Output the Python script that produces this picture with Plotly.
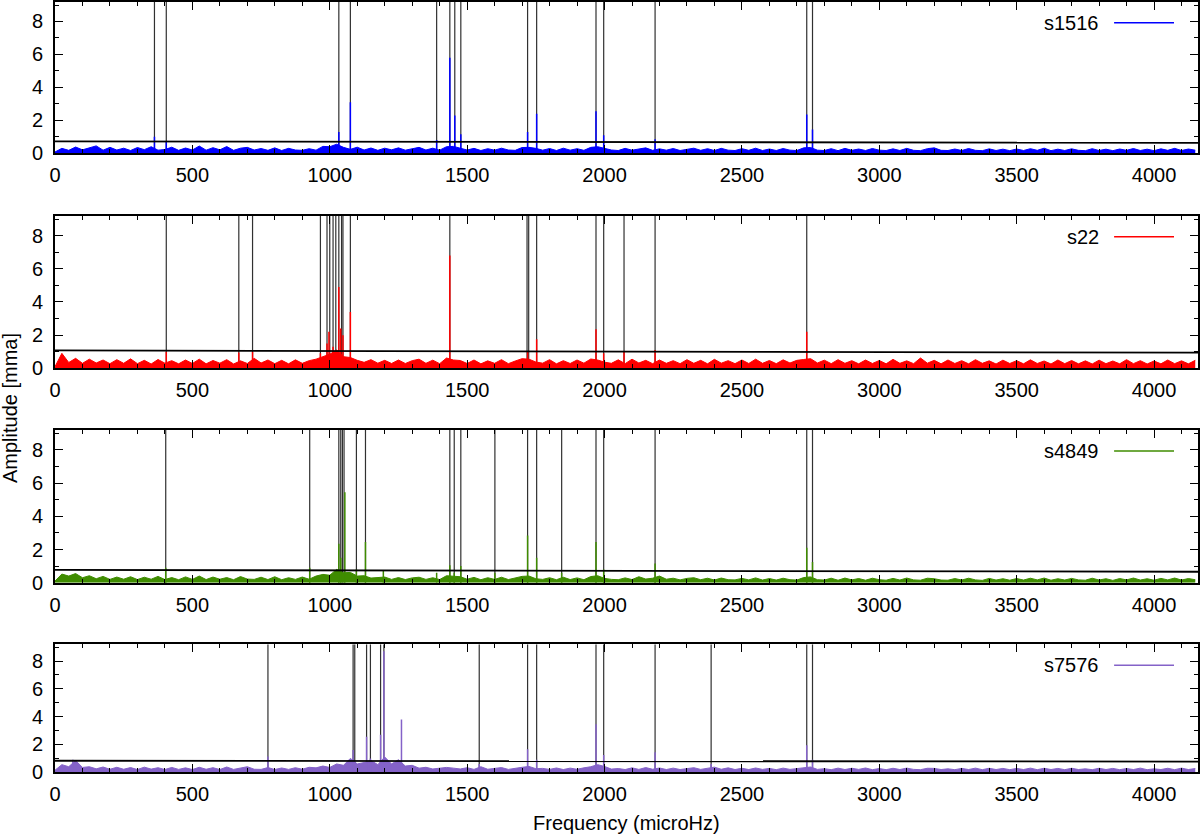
import plotly.graph_objects as go
from plotly.subplots import make_subplots

# --- data (frequency in microHz, amplitude in mma) ---
stars = ["s1516", "s22", "s4849", "s7576"]
colors = ["#0000ff", "#ff0000", "#3f8c00", "#8462c8"]

# noise floor, read every 25 microHz
noise_freq = list(range(0, 4175, 25))

noise_s1516 = [
    0.08, 0.30, 0.18, 0.38, 0.21, 0.33, 0.45, 0.19, 0.36, 0.20,
    0.31, 0.17, 0.35, 0.22, 0.40, 0.19, 0.23, 0.37, 0.18, 0.32,
    0.20, 0.44, 0.19, 0.34, 0.21, 0.41, 0.18, 0.31, 0.36, 0.20,
    0.29, 0.18, 0.33, 0.17, 0.30, 0.20, 0.18, 0.28, 0.19, 0.42,
    0.40, 0.55, 0.36, 0.24, 0.37, 0.20, 0.32, 0.18, 0.31, 0.21,
    0.33, 0.19, 0.29, 0.36, 0.20, 0.31, 0.19, 0.40, 0.42, 0.30,
    0.20, 0.30, 0.17, 0.28, 0.19, 0.31, 0.20, 0.18, 0.35, 0.36,
    0.30, 0.19, 0.29, 0.17, 0.31, 0.19, 0.28, 0.18, 0.36, 0.40,
    0.32, 0.20, 0.17, 0.30, 0.19, 0.28, 0.33, 0.18, 0.27, 0.19,
    0.29, 0.17, 0.26, 0.31, 0.18, 0.28, 0.17, 0.30, 0.19, 0.17,
    0.28, 0.18, 0.31, 0.17, 0.26, 0.17, 0.29, 0.19, 0.17, 0.33,
    0.35, 0.19, 0.17, 0.28, 0.16, 0.30, 0.18, 0.26, 0.17, 0.29,
    0.19, 0.17, 0.27, 0.17, 0.30, 0.18, 0.16, 0.28, 0.33, 0.18,
    0.17, 0.26, 0.17, 0.29, 0.18, 0.16, 0.27, 0.17, 0.25, 0.16,
    0.26, 0.17, 0.28, 0.18, 0.31, 0.16, 0.25, 0.17, 0.27, 0.18,
    0.16, 0.28, 0.17, 0.25, 0.16, 0.26, 0.18, 0.29, 0.17, 0.25,
    0.16, 0.27, 0.18, 0.30, 0.17, 0.26, 0.19,
]
noise_s22 = [
    0.10, 0.90, 0.35, 0.60, 0.30, 0.55, 0.32, 0.50, 0.28, 0.52,
    0.30, 0.57, 0.28, 0.48, 0.26, 0.53, 0.31, 0.46, 0.27, 0.50,
    0.29, 0.55, 0.27, 0.47, 0.31, 0.52, 0.26, 0.45, 0.29, 0.60,
    0.32, 0.50, 0.28, 0.48, 0.27, 0.51, 0.30, 0.46, 0.55, 0.70,
    0.85, 1.10, 0.70, 0.65, 0.48, 0.36, 0.52, 0.31, 0.48, 0.29,
    0.50, 0.29, 0.46, 0.55, 0.30, 0.49, 0.28, 0.62, 0.50, 0.47,
    0.29, 0.50, 0.27, 0.45, 0.30, 0.52, 0.28, 0.44, 0.58, 0.55,
    0.38, 0.31, 0.52, 0.27, 0.46, 0.29, 0.50, 0.31, 0.56, 0.50,
    0.37, 0.30, 0.51, 0.28, 0.55, 0.32, 0.48, 0.28, 0.50, 0.30,
    0.46, 0.28, 0.52, 0.30, 0.48, 0.27, 0.54, 0.31, 0.46, 0.28,
    0.50, 0.29, 0.55, 0.30, 0.47, 0.28, 0.51, 0.32, 0.48, 0.53,
    0.58, 0.32, 0.49, 0.28, 0.52, 0.30, 0.46, 0.27, 0.50, 0.29,
    0.47, 0.27, 0.54, 0.30, 0.45, 0.28, 0.62, 0.31, 0.48, 0.27,
    0.50, 0.29, 0.46, 0.27, 0.52, 0.30, 0.45, 0.26, 0.49, 0.29,
    0.46, 0.27, 0.51, 0.29, 0.44, 0.26, 0.50, 0.28, 0.47, 0.27,
    0.45, 0.26, 0.49, 0.28, 0.44, 0.27, 0.52, 0.28, 0.46, 0.26,
    0.44, 0.27, 0.50, 0.28, 0.45, 0.27, 0.48,
]
noise_s4849 = [
    0.10, 0.52, 0.40, 0.55, 0.30, 0.42, 0.24, 0.38, 0.20, 0.34,
    0.21, 0.36, 0.19, 0.33, 0.21, 0.38, 0.19, 0.31, 0.18, 0.35,
    0.20, 0.40, 0.19, 0.34, 0.21, 0.31, 0.18, 0.37, 0.22, 0.20,
    0.33, 0.19, 0.36, 0.18, 0.30, 0.20, 0.34, 0.21, 0.40, 0.50,
    0.45, 0.80, 0.60, 0.62, 0.40, 0.42, 0.28, 0.30, 0.34, 0.20,
    0.31, 0.19, 0.29, 0.33, 0.20, 0.30, 0.19, 0.42, 0.40, 0.36,
    0.21, 0.32, 0.18, 0.30, 0.20, 0.33, 0.19, 0.29, 0.38, 0.40,
    0.24, 0.20, 0.30, 0.18, 0.33, 0.19, 0.29, 0.18, 0.37, 0.42,
    0.26, 0.20, 0.18, 0.29, 0.19, 0.36, 0.22, 0.27, 0.40, 0.21,
    0.27, 0.17, 0.26, 0.30, 0.18, 0.27, 0.16, 0.28, 0.18, 0.17,
    0.26, 0.17, 0.29, 0.16, 0.25, 0.16, 0.27, 0.18, 0.16, 0.31,
    0.35, 0.18, 0.16, 0.27, 0.15, 0.28, 0.17, 0.25, 0.15, 0.27,
    0.18, 0.15, 0.26, 0.16, 0.28, 0.17, 0.15, 0.27, 0.24, 0.16,
    0.15, 0.25, 0.16, 0.27, 0.17, 0.14, 0.26, 0.16, 0.24, 0.15,
    0.25, 0.16, 0.27, 0.17, 0.28, 0.15, 0.24, 0.16, 0.26, 0.17,
    0.15, 0.27, 0.16, 0.24, 0.14, 0.25, 0.17, 0.28, 0.16, 0.24,
    0.15, 0.26, 0.17, 0.28, 0.16, 0.25, 0.18,
]
noise_s7576 = [
    0.15, 0.55, 0.40, 0.85, 0.35, 0.40, 0.25, 0.38, 0.22, 0.36,
    0.22, 0.34, 0.20, 0.37, 0.23, 0.33, 0.20, 0.35, 0.21, 0.32,
    0.20, 0.36, 0.22, 0.33, 0.20, 0.38, 0.21, 0.31, 0.40, 0.22,
    0.21, 0.34, 0.20, 0.31, 0.21, 0.33, 0.22, 0.36, 0.32, 0.45,
    0.35, 0.60, 0.50, 1.00, 0.60, 0.70, 0.85, 0.55, 1.10, 0.60,
    0.90, 0.45, 0.50, 0.30, 0.36, 0.24, 0.28, 0.35, 0.30, 0.24,
    0.33, 0.21, 0.40, 0.22, 0.28, 0.34, 0.21, 0.31, 0.36, 0.42,
    0.26, 0.28, 0.21, 0.31, 0.20, 0.30, 0.22, 0.32, 0.40, 0.55,
    0.42, 0.23, 0.27, 0.20, 0.32, 0.21, 0.34, 0.22, 0.31, 0.20,
    0.30, 0.20, 0.29, 0.33, 0.21, 0.30, 0.37, 0.22, 0.32, 0.20,
    0.29, 0.20, 0.31, 0.21, 0.28, 0.19, 0.30, 0.21, 0.26, 0.34,
    0.38, 0.21, 0.26, 0.19, 0.30, 0.20, 0.29, 0.21, 0.31, 0.19,
    0.27, 0.19, 0.29, 0.20, 0.30, 0.21, 0.19, 0.29, 0.28, 0.20,
    0.25, 0.19, 0.28, 0.20, 0.30, 0.19, 0.29, 0.20, 0.28, 0.19,
    0.28, 0.20, 0.30, 0.19, 0.29, 0.20, 0.28, 0.19, 0.29, 0.20,
    0.25, 0.19, 0.29, 0.20, 0.28, 0.19, 0.27, 0.20, 0.30, 0.19,
    0.25, 0.20, 0.29, 0.19, 0.30, 0.20, 0.27,
]

# narrow peaks above the noise
peak_freq_s1516 = [362, 405, 1033, 1075, 1389, 1437, 1455, 1477, 1720, 1753, 1969, 1997, 2184, 2736, 2757]
peak_amp_s1516 = [1.0, 0.7, 1.3, 3.1, 0.8, 5.8, 2.3, 1.15, 1.3, 2.4, 2.55, 1.1, 0.85, 2.35, 1.45]

peak_freq_s22 = [405, 669, 719, 966, 990, 997, 1012, 1033, 1040, 1048, 1075, 1437, 1720, 1753, 1969, 1997, 2071, 2184, 2736]
peak_amp_s22 = [1.0, 0.95, 1.0, 0.9, 1.5, 2.2, 1.3, 4.9, 2.4, 2.0, 3.4, 6.8, 1.0, 1.75, 2.35, 0.9, 1.0, 1.1, 2.2]

peak_freq_s4849 = [403, 927, 1033, 1040, 1055, 1097, 1130, 1195, 1389, 1437, 1453, 1477, 1601, 1720, 1753, 1844, 1969, 1997, 2184, 2736, 2757]
peak_amp_s4849 = [0.9, 0.9, 2.35, 1.5, 5.45, 0.8, 2.45, 0.7, 0.6, 1.05, 0.6, 1.0, 0.6, 2.85, 1.5, 0.6, 2.45, 0.8, 1.15, 2.1, 1.25]

peak_freq_s7576 = [65, 775, 1085, 1134, 1148, 1185, 1197, 1261, 1544, 1720, 1753, 1969, 1997, 2184, 2388, 2736, 2757]
peak_amp_s7576 = [0.9, 1.13, 1.6, 2.55, 1.0, 2.7, 8.7, 3.8, 0.6, 1.65, 0.9, 3.45, 1.25, 1.45, 0.6, 1.95, 0.9]

# frequencies marked with vertical lines
marks_s1516 = [362, 405, 1033, 1075, 1389, 1437, 1455, 1477, 1720, 1753, 1969, 1997, 2184, 2736, 2757]
marks_s22 = [405, 669, 719, 966, 990, 1000, 1012, 1022, 1033, 1043, 1048, 1075, 1437, 1718, 1724, 1753,
             1969, 1997, 2071, 2184, 2736]
marks_s4849 = [403, 927, 1033, 1040, 1046, 1052, 1097, 1130, 1437, 1453, 1477, 1601, 1720, 1753, 1844,
               1969, 1997, 2184, 2736, 2757]
marks_s7576 = [775, 1085, 1091, 1134, 1148, 1185, 1197, 1544, 1720, 1753, 1969, 1997, 2184, 2388, 2736, 2757]

# significance threshold
thr_freq = [0, 1000, 2000, 3000, 4160]
thr_s1516 = [0.72, 0.70, 0.68, 0.66, 0.64]
thr_s22 = [1.08, 1.05, 1.01, 0.97, 0.94]
thr_s4849 = [0.77, 0.74, 0.71, 0.68, 0.66]
thr_s7576 = [0.83, 0.81, 0.80, 0.78, 0.77]

noise = [noise_s1516, noise_s22, noise_s4849, noise_s7576]
peak_freq = [peak_freq_s1516, peak_freq_s22, peak_freq_s4849, peak_freq_s7576]
peak_amp = [peak_amp_s1516, peak_amp_s22, peak_amp_s4849, peak_amp_s7576]
marks = [marks_s1516, marks_s22, marks_s4849, marks_s7576]
thr = [thr_s1516, thr_s22, thr_s4849, thr_s7576]

x_max = 4160
y_max = 9.2
font = "Liberation Sans, Arial, sans-serif"

W, H = 1200, 835
ML, MR = 55, 2
# panel edges in pixels (top, bottom)
panels_px = [(1.7, 153.3), (215.7, 368.3), (430, 582.7), (644.3, 772.3)]

fig = make_subplots(rows=4, cols=1)

for i in range(4):
    row = i + 1
    # vertical marker lines
    vx, vy = [], []
    for f in marks[i]:
        vx += [f, f, None]
        vy += [0, y_max, None]
    fig.add_trace(go.Scatter(x=vx, y=vy, mode="lines", line=dict(color="#303030", width=1.2),
                             hoverinfo="skip", showlegend=False), row=row, col=1)
    # noise floor
    fig.add_trace(go.Scatter(x=noise_freq, y=noise[i], mode="lines", fill="tozeroy",
                             fillcolor=colors[i], line=dict(color=colors[i], width=1),
                             name=stars[i], showlegend=False), row=row, col=1)
    # peaks as impulses
    px, py = [], []
    for f, a in zip(peak_freq[i], peak_amp[i]):
        px += [f, f, None]
        py += [0, a, None]
    fig.add_trace(go.Scatter(x=px, y=py, mode="lines", line=dict(color=colors[i], width=1.5),
                             hoverinfo="skip", showlegend=False), row=row, col=1)
    # threshold
    fig.add_trace(go.Scatter(x=thr_freq, y=thr[i], mode="lines", line=dict(color="black", width=1.8),
                             hoverinfo="skip", showlegend=False), row=row, col=1)

    top, bot = panels_px[i]
    sfx = "" if i == 0 else str(row)
    fig.layout["yaxis" + sfx].domain = [1 - bot / H, 1 - top / H]

    # legend entry: text then a short line sample
    ly = 1 - 21 / (bot - top)
    fig.add_annotation(x=0.915, y=ly, xref="x%s domain" % sfx, yref="y%s domain" % sfx,
                       text=stars[i], showarrow=False, xanchor="right", yanchor="middle",
                       font=dict(family=font, size=20, color="black"))
    fig.add_shape(type="line", x0=0.9266, x1=0.979, y0=ly, y1=ly,
                  xref="x%s domain" % sfx, yref="y%s domain" % sfx,
                  line=dict(color=colors[i], width=1.5))

axis_common = dict(showline=True, linecolor="black", linewidth=1.8, mirror="allticks",
                   ticks="inside", ticklen=8, tickwidth=1, tickcolor="black",
                   showgrid=False, zeroline=False, automargin=False,
                   tickfont=dict(family=font, size=20, color="black"))

fig.update_xaxes(range=[0, x_max], tick0=0, dtick=500, ticklabelstandoff=3,
                 minor=dict(ticks="inside", dtick=100, ticklen=4, tickcolor="black"),
                 **axis_common)
fig.update_yaxes(range=[0, y_max], tick0=0, dtick=2, ticklabelstandoff=6,
                 minor=dict(ticks="inside", dtick=1, ticklen=4, tickcolor="black"),
                 **axis_common)

plot_w = W - ML - MR
fig.add_annotation(x=(10 - ML) / plot_w, y=1 - 408 / H, xref="paper", yref="paper",
                   text="Amplitude [mma]", textangle=-90, showarrow=False,
                   xanchor="center", yanchor="middle",
                   font=dict(family=font, size=20, color="black"))
fig.add_annotation(x=0.5, y=1 - 823 / H, xref="paper", yref="paper", text="Frequency (microHz)",
                   showarrow=False, xanchor="center", yanchor="middle",
                   font=dict(family=font, size=20, color="black"))

fig.update_layout(width=W, height=H, margin=dict(l=ML, r=MR, t=0, b=0),
                  plot_bgcolor="white", paper_bgcolor="white", showlegend=False,
                  font=dict(family=font, size=20, color="black"))

fig.write_html("out.html", config={"displayModeBar": False},
               post_script="document.body.style.margin='0px';")
